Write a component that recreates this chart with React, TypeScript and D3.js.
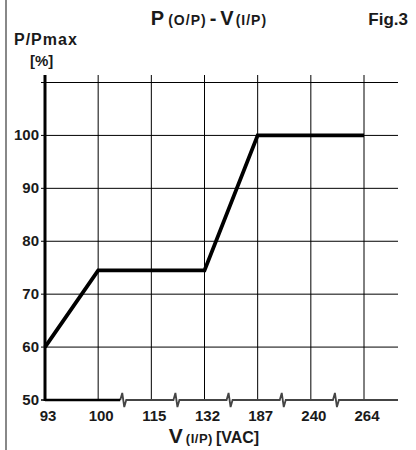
import React from 'react';
import * as d3 from 'd3';

// input voltage categories (broken axis, evenly spaced)
const voltages = ['93', '100', '115', '132', '187', '240', '264'];
// derating curve
const curveV = ['93', '100', '132', '187', '264'];
const curveP = [60, 74.5, 74.5, 100, 100];
const yTicks = [50, 60, 70, 80, 90, 100];
const yGrid = [60, 70, 80, 90, 100, 110];

const W = 416;
const H = 450;
const font = '"Liberation Sans", Arial, Helvetica, sans-serif';
const ink = '#1a1a1a';

export default function App() {
  const x = d3.scalePoint<string>().domain(voltages).range([45, 364]).padding(0);
  const y = d3.scaleLinear().domain([50, 110]).range([400, 82.5]);
  const step = x.step();
  const right = 398;
  const top = 75;
  const base = y(50);

  const line = d3
    .line<number>()
    .x((_, i) => x(curveV[i]) as number)
    .y((d) => y(d));

  // break marks between categories after 100
  const breaks = voltages.slice(1, -1).map((v) => (x(v) as number) + step / 2 - 1.5);
  // gray axis run with a zigzag at every break
  let axisPath = '';
  breaks.forEach((b, i) => {
    axisPath += (i === 0 ? `M${b - 3},${base}` : ` L${b - 3},${base}`) +
      ` L${b - 1},${base - 7} L${b + 1},${base + 7} L${b + 3},${base}`;
  });
  axisPath += ` L${right},${base}`;

  return (
    <svg
      width={W}
      height={H}
      style={{ position: 'absolute', left: 0, top: 0, background: '#fff' }}
      fontFamily={font}
      fontWeight="bold"
      fill={ink}
    >
      <line x1={6} x2={6} y1={0} y2={H} stroke="#888" strokeWidth={2} />

      {/* horizontal grid */}
      {yGrid.map((v) => (
        <line key={v} x1={41} x2={right} y1={y(v)} y2={y(v)} stroke="#000" strokeWidth={1} />
      ))}
      <line x1={41} x2={45} y1={base} y2={base} stroke="#000" strokeWidth={1.5} />

      {/* vertical grid */}
      {voltages.slice(1).map((v) => (
        <line key={v} x1={x(v)} x2={x(v)} y1={top} y2={base} stroke="#000" strokeWidth={1} />
      ))}

      {/* bottom axis with breaks */}
      <path d={axisPath} fill="none" stroke="#444" strokeWidth={1.8} strokeLinejoin="miter" />
      <line x1={45} x2={breaks[0] - 3} y1={base} y2={base} stroke="#000" strokeWidth={2.5} />

      {/* y axis */}
      <line x1={45} x2={45} y1={top} y2={base + 1} stroke="#000" strokeWidth={3} />

      {/* curve */}
      <path d={line(curveP) || ''} fill="none" stroke="#000" strokeWidth={3.8} strokeLinejoin="miter" />

      {/* y labels */}
      {yTicks.map((v) => (
        <text key={v} x={39} y={y(v) + 5} textAnchor="end" fontSize={15}>
          {v}
        </text>
      ))}

      {/* x labels */}
      {voltages.map((v) => (
        <text key={v} x={(x(v) as number) + 3} y={421} textAnchor="middle" fontSize={15}>
          {v}
        </text>
      ))}

      {/* titles */}
      <text x={209} y={25} textAnchor="middle">
        <tspan fontSize={20}>P</tspan>
        <tspan fontSize={14} dx={4} letterSpacing={1}>(O/P)</tspan>
        <tspan fontSize={20} dx={3}>-</tspan>
        <tspan fontSize={20} dx={4}>V</tspan>
        <tspan fontSize={14} dx={2} letterSpacing={1}>(I/P)</tspan>
      </text>
      <text x={408} y={25} textAnchor="end" fontSize={17}>
        Fig.3
      </text>
      <text x={14} y={45} fontSize={16} letterSpacing={1}>
        P/Pmax
      </text>
      <text x={30} y={66} fontSize={15}>
        [%]
      </text>
      <text x={214} y={443} textAnchor="middle">
        <tspan fontSize={21}>V</tspan>
        <tspan fontSize={13} dx={3} letterSpacing={0.5}>(I/P)</tspan>
        <tspan fontSize={16} dx={3}>[VAC]</tspan>
      </text>
    </svg>
  );
}
